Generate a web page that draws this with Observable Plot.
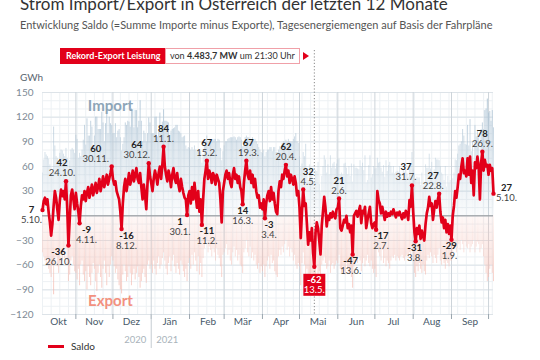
<!DOCTYPE html>
<html>
<head>
<meta charset="utf-8">
<script src="https://cdn.jsdelivr.net/npm/d3@7"></script>
<script src="https://cdn.jsdelivr.net/npm/@observablehq/plot@0.6"></script>
<style>
html,body{margin:0;padding:0;background:#fff;}
#wrap{position:relative;width:540px;height:360px;overflow:hidden;font-family:Lato,"Open Sans",sans-serif;}
#chart{position:absolute;left:0;top:0;}
.abs{position:absolute;white-space:nowrap;}
#title{left:20px;top:-5px;font-size:17px;line-height:17px;color:#333;}
#subtitle{left:20px;top:19px;font-size:11px;line-height:11px;color:#555;}
#unit{left:20px;top:72px;font-size:10px;line-height:10px;color:#5a6670;}
#badge{left:60px;top:48px;height:16px;display:flex;font-size:9px;line-height:14px;}
#badge span{box-sizing:border-box;height:16px;display:block;overflow:hidden;}
#b1{background:#e2001a;color:#fff;font-weight:bold;padding:0 0 0 5px;border:1px solid #e2001a;width:105px;}
#b2{background:#fff;color:#333;padding:0 0 0 4px;border:1px solid #f0a0a8;width:135px;}
#tri{left:303px;top:52px;width:0;height:0;border-left:6px solid #e2001a;border-top:4px solid transparent;border-bottom:4px solid transparent;}
#legend{left:48px;top:340px;font-size:10px;line-height:12px;color:#333;display:flex;align-items:center;}
#legend i{display:inline-block;width:16px;height:3px;background:#e2001a;margin-right:7px;}
</style>
</head>
<body>
<div id="wrap">
  <div id="chart"></div>
  <div class="abs" id="title">Strom Import/Export in Österreich der letzten 12 Monate</div>
  <div class="abs" id="subtitle">Entwicklung Saldo (=Summe Importe minus Exporte), Tagesenergiemengen auf Basis der Fahrpläne</div>
  <div class="abs" id="unit">GWh</div>
  <div class="abs" id="badge"><span id="b1">Rekord-Export Leistung</span><span id="b2">von <b>4.483,7 MW</b> um 21:30 Uhr</span></div>
  <div class="abs" id="tri"></div>
  <div class="abs" id="legend"><i></i>Saldo</div>
</div>
<script>
// Daily saldo (GWh), 5.10.2020 – 5.10.2021
const saldoOct20 = [7,18,22,14,20,4,-8,-24,-10,12,30,22,8,-5,18,32,24,30,20,42,10,-36,-5,25,32,20,8];
const saldoNov20 = [28,15,5,-9,12,25,20,30,18,28,35,22,30,38,25,32,40,28,35,45,30,38,48,35,42,50,38,45,52,60];
const saldoDec20 = [45,38,42,30,25,20,5,-16,15,35,45,30,40,52,38,45,55,42,50,58,45,40,52,35,20,38,25,8,40,64,48];
const saldoJan21 = [40,30,45,55,48,38,52,60,45,62,84,60,50,42,55,48,35,50,58,45,40,52,38,30,45,35,28,22,20,1,25];
const saldoFeb21 = [30,15,35,20,40,25,10,30,5,20,-11,20,45,55,67,45,55,50,40,52,48,38,50,45,40,20,-8,30];
const saldoMar21 = [40,50,55,45,52,40,35,50,58,45,50,40,48,35,30,14,40,55,67,50,45,55,40,50,35,45,30,22,25,10,15];
const saldoApr21 = [8,20,-3,15,25,30,18,35,20,28,15,5,2,30,42,35,50,45,55,62,48,55,40,50,45,38,48,40,25,30];
const saldoMay21 = [10,-27,5,32,12,15,-10,-35,-20,-30,-15,-45,-62,-20,-8,-15,-30,-47,-12,5,23,10,-13,0,-5,3,-2,5,0,-3,8];
const saldoJun21 = [10,21,-15,-18,-12,-5,-8,0,-15,-10,-20,-12,-47,0,3,6,-1,6,12,-9,6,3,11,-15,-5,3,11,-9,-15,-10];
const saldoJul21 = [-8,-17,30,19,15,3,11,3,-5,5,-1,3,0,5,2,8,3,-2,4,1,5,0,-4,3,-2,6,3,-5,19,11,37];
const saldoAug21 = [5,-20,-31,-15,-22,-12,-28,-18,-25,-30,-10,3,10,23,12,15,-5,8,18,10,20,27,5,-8,-2,-15,-5,-20,-10,-22,-12];
const saldoSep21 = [-29,0,12,30,22,35,50,45,60,70,52,55,48,70,50,72,40,55,25,65,58,72,60,20,65,78,55,68,60,62];
const saldoOct21 = [50,62,55,58,27];

// Daily export volumes (GWh)
const expOct20 = [45,50,55,60,52,65,70,75,60,96,55,50,62,70,58,48,55,45,52,40,60,80,72,55,50,60,68];
const expNov20 = [70,78,65,85,60,55,72,80,68,90,62,75,85,70,58,65,80,92,70,60,75,88,65,55,70,85,62,75,60,50];
const expDec20 = [55,62,70,65,78,85,90,95,72,60,68,80,75,62,70,85,72,65,78,70,62,75,88,80,70,65,75,82,60,55,65];
const expJan21 = [60,70,55,65,72,58,50,65,60,52,45,55,65,72,58,50,68,55,48,62,70,58,65,72,55,60,68,75,65,80,58];
const expFeb21 = [52,65,48,60,45,55,68,50,72,58,75,52,40,35,30,45,38,42,50,40,45,55,40,48,52,62,75,48];
const expMar21 = [45,40,35,48,42,55,60,45,38,50,42,55,48,60,62,70,45,40,30,45,50,38,52,45,55,48,60,65,58,70,62];
const expApr21 = [68,60,75,62,55,50,65,48,58,55,68,72,75,50,42,48,38,45,35,30,42,38,50,40,45,55,48,60,65,58];
const expMay21 = [62,85,58,45,60,72,65,78,82,88,70,85,95,75,62,80,68,75,60,55,50,58,65,62,55,70,60,58,65,60,55];
const expJun21 = [58,48,65,70,62,68,72,58,65,70,68,75,88,62,55,52,58,50,55,68,58,52,62,55,48,58,62,55,65,70];
const expJul21 = [65,75,40,45,50,55,42,58,52,62,55,58,65,55,50,52,48,55,50,52,55,50,48,52,55,50,48,52,45,50,40];
const expAug21 = [52,70,75,62,68,58,65,70,60,68,72,55,48,52,45,50,58,48,52,58,48,40,55,60,52,58,65,55,58,62,55];
const expSep21 = [55,45,40,38,45,40,35,42,30,35,45,32,38,40,35,45,38,35,30,45,38,32,35,45,40,35,50,60,70,80];
const expOct21 = [75,65,60,70,80];

const monthNames = ["Okt","Nov","Dez","Jän","Feb","Mär","Apr","Mai","Jun","Jul","Aug","Sep"];
const yTicks = [-120,-90,-60,-30,30,60,90,120,150];
const gridTicks = [-120,-90,-60,-30,0,30,60,90,120,150];
const yearLabels = ["2020","2021"];

// Annotated extremes
const annDates  = ["2020-10-05","2020-10-24","2020-10-26","2020-11-04","2020-11-30","2020-12-08","2020-12-30","2021-01-11","2021-01-30","2021-02-11","2021-02-15","2021-03-16","2021-03-19","2021-04-03","2021-04-20","2021-05-04","2021-05-13","2021-06-02","2021-06-13","2021-07-02","2021-07-31","2021-08-03","2021-08-22","2021-09-01","2021-09-26","2021-10-05"];
const annLabels = ["5.10.","24.10.","26.10.","4.11.","30.11.","8.12.","30.12.","11.1.","30.1.","11.2.","15.2.","16.3.","19.3.","3.4.","20.4.","4.5.","13.5.","2.6.","13.6.","2.7.","31.7.","3.8.","22.8.","1.9.","26.9.","5.10."];
// layout of the annotation labels
const annPlace  = ["left","top","bottom","bottom","top","bottom","top","top","bottom","bottom","top","bottom","top","bottom","top","top","box","top","bottom","bottom","top","bottom","top","bottom","top","right"];
const annDx     = [-11,-4,-10,7,-16,5,-12,0,-7,5,0,0,2,4,0,5,0,0,-2,5,-6,-1,-6,-2,0,13];

const recordDate = "2021-05-13";

const saldo = [].concat(saldoOct20,saldoNov20,saldoDec20,saldoJan21,saldoFeb21,saldoMar21,saldoApr21,saldoMay21,saldoJun21,saldoJul21,saldoAug21,saldoSep21,saldoOct21);
const exps = [].concat(expOct20,expNov20,expDec20,expJan21,expFeb21,expMar21,expApr21,expMay21,expJun21,expJul21,expAug21,expSep21,expOct21);
const start = new Date(Date.UTC(2020,9,5));
const end = new Date(Date.UTC(2021,9,5));
const data = saldo.map((s,i) => ({date: d3.utcDay.offset(start,i), saldo: s, exp: -exps[i], imp: s + exps[i]}));
const byDate = new Map(data.map(d => [+d.date, d]));

const ann = annDates.map((ds,i) => {
  const d = byDate.get(+new Date(ds));
  return {date: d.date, saldo: d.saldo, label: annLabels[i], value: String(d.saldo), place: annPlace[i], dx: annDx[i]};
});

const monthStarts = d3.utcMonth.range(new Date(Date.UTC(2020,10,1)), new Date(Date.UTC(2021,9,2)));
const monthMids = [new Date(Date.UTC(2020,9,18))].concat(d3.utcMonth.range(new Date(Date.UTC(2020,10,1)), new Date(Date.UTC(2021,9,1))).map(m => d3.utcDay.offset(m,15)));
const weeks = d3.utcMonday.range(start, end);
const jan1 = new Date(Date.UTC(2021,0,1));

const RED = "#e2001a";
const offs = {
  top:    [-18,-8],
  bottom: [6.5,16.5],
  left:   [0,10],
  right:  [-6,4],
  box:    [13,23]
};

const annMarks = [];
for (const a of ann) {
  const [dv, dd] = offs[a.place];
  const col = a.place === "box" ? "#fff" : "#222";
  const col2 = a.place === "box" ? "#fff" : "#444";
  if (a.place === "box") {
    annMarks.push(Plot.dot([a], {x:"date", y:"saldo", symbol:"square", r:12.4, fill:RED, stroke:null, dy:18}));
  }
  annMarks.push(Plot.text([a], {x:"date", y:"saldo", text:"value", dx:a.dx, dy:dv, fontWeight:"bold", fill:col, fontSize:9.5}));
  annMarks.push(Plot.text([a], {x:"date", y:"saldo", text:"label", dx:a.dx, dy:dd, fill:col2, fontSize:9.5}));
}

const chart = Plot.plot({
  width: 540,
  height: 360,
  marginLeft: 42,
  marginRight: 47,
  marginTop: 92,
  marginBottom: 46,
  style: {fontFamily: "Lato, 'Open Sans', sans-serif", background: "transparent"},
  x: {type: "utc", domain: [start, end], axis: null},
  y: {domain: [-120, 150], axis: null},
  marks: [
    Plot.ruleY(d3.range(-120, 151, 10), {stroke: "#edf1f4", strokeWidth: 1}),
    Plot.ruleX(weeks, {stroke: "#edf1f4", strokeWidth: 1}),
    Plot.ruleY(gridTicks, {stroke: "#dde3e8", strokeWidth: 1}),
    Plot.ruleX(monthStarts, {stroke: "#cdd4da", strokeWidth: 1}),
    Plot.ruleX(data, {x: "date", y1: 0, y2: "imp", stroke: "url(#gImp)", strokeWidth: 1}),
    Plot.ruleX(data, {x: "date", y1: 0, y2: "exp", stroke: "url(#gExp)", strokeWidth: 1}),
    Plot.text([{t:"Import", date: new Date(Date.UTC(2020,10,29)), v: 133}], {x:"date", y:"v", text:"t", fill:"#8da5b8", fontSize:15, fontWeight:"bold"}),
    Plot.text([{t:"Export", date: new Date(Date.UTC(2020,10,29)), v: -104}], {x:"date", y:"v", text:"t", fill:"#f2917f", fontSize:15, fontWeight:"bold"}),
    Plot.ruleY([0], {stroke: "#8d9297", strokeWidth: 1}),
    Plot.ruleX([new Date(recordDate)], {stroke: "#888", strokeDasharray: "1.2,2", strokeWidth: 1, insetTop: -42}),
    Plot.axisY(yTicks, {tickSize: 0, tickPadding: 9, fontSize: 10, fill: "#7d8a95", label: null}),
    Plot.axisX(monthStarts, {tickSize: 5, tickFormat: () => "", stroke: "#9aa5ae", label: null}),
    Plot.axisX([jan1], {tickSize: 34, tickFormat: () => "", stroke: "#c5ccd2", label: null}),
    Plot.text(monthMids, {x: d => d, text: (d,i) => monthNames[i], frameAnchor: "bottom", dy: 10, fill: "#475969", fontSize: 10}),
    Plot.text([yearLabels[0]], {x: () => jan1, text: d => d, frameAnchor: "bottom", dy: 28, dx: -5, textAnchor: "end", fill: "#a9b3bb", fontSize: 9.5}),
    Plot.text([yearLabels[1]], {x: () => jan1, text: d => d, frameAnchor: "bottom", dy: 28, dx: 5, textAnchor: "start", fill: "#a9b3bb", fontSize: 9.5}),
    Plot.line(data, {x: "date", y: "saldo", stroke: RED, strokeWidth: 2.7, strokeLinejoin: "round"}),
    Plot.dot(ann, {x: "date", y: "saldo", r: 2.2, fill: RED, stroke: null}),
    ...annMarks
  ]
});

// vertical fades for the import / export bars, placed via the y scale
const ys = chart.scale("y");
const defs = d3.select(chart).insert("defs", ":first-child");
const gi = defs.append("linearGradient").attr("id", "gImp").attr("gradientUnits", "userSpaceOnUse")
  .attr("x1", 0).attr("x2", 0).attr("y1", ys.apply(0)).attr("y2", ys.apply(150));
gi.append("stop").attr("offset", 0).attr("stop-color", "#b3c8d8").attr("stop-opacity", 0.08);
gi.append("stop").attr("offset", 0.35).attr("stop-color", "#b3c8d8").attr("stop-opacity", 0.4);
gi.append("stop").attr("offset", 1).attr("stop-color", "#a9c0d2").attr("stop-opacity", 0.9);
const ge = defs.append("linearGradient").attr("id", "gExp").attr("gradientUnits", "userSpaceOnUse")
  .attr("x1", 0).attr("x2", 0).attr("y1", ys.apply(0)).attr("y2", ys.apply(-120));
ge.append("stop").attr("offset", 0).attr("stop-color", "#f5bfb5").attr("stop-opacity", 0.15);
ge.append("stop").attr("offset", 0.4).attr("stop-color", "#f5bfb5").attr("stop-opacity", 0.5);
ge.append("stop").attr("offset", 1).attr("stop-color", "#f3b3a8").attr("stop-opacity", 0.85);

document.getElementById("chart").appendChild(chart);
</script>
</body>
</html>
